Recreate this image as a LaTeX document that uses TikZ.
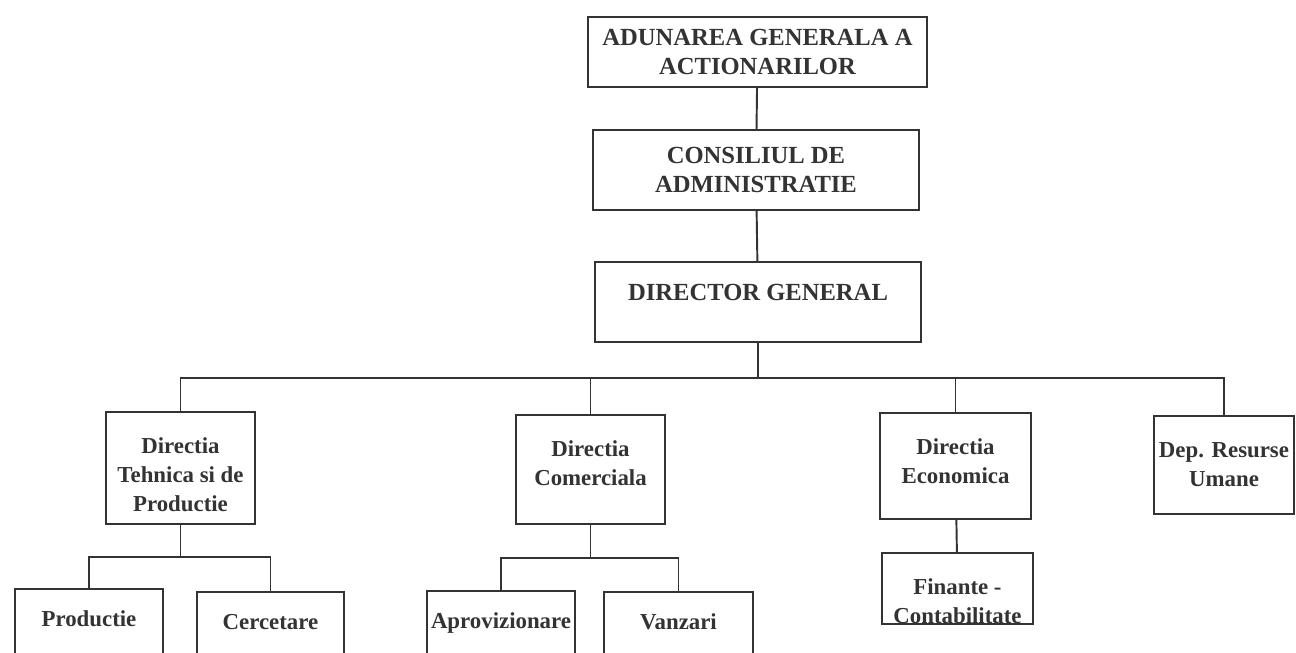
\documentclass[tikz,border=0pt]{standalone}
\usepackage{fontspec}
\setmainfont{Liberation Serif}
\usetikzlibrary{positioning}

\begin{document}
\begin{tikzpicture}[x=0.02cm, y=-0.02cm,
    unit/.style={draw=black!80, line width=1.2pt, fill=white, align=center,
        inner sep=2pt, text=black!80,
        font=\fontsize{13}{16.5}\selectfont\bfseries},
    head/.style={unit, font=\fontsize{14}{16.5}\selectfont\bfseries},
    dept/.style={unit, anchor=north, minimum height=1.4cm, text depth=0.2cm},
    conn/.style={draw=black!80, line width=1.1pt}]

    % Fixed frame of the page
    \clip (0,0) rectangle (1296,653);

    % Top of the hierarchy
    \node[head, minimum width=6.78cm, minimum height=1.4cm] (aga) at (757.5,52)
        {ADUNAREA GENERALA A\\ACTIONARILOR};
    \node[head, minimum width=6.52cm, minimum height=1.6cm] (ca) at (756,170)
        {CONSILIUL DE\\ADMINISTRATIE};
    \node[head, minimum width=6.52cm, minimum height=1.6cm, text depth=0.4cm] (dg) at (758,302)
        {DIRECTOR GENERAL};

    % Directions
    \node[unit, minimum width=2.98cm, minimum height=2.24cm, text height=50pt] (dt) at (180.5,468)
        {Directia\\Tehnica si de\\Productie};
    \node[unit, minimum width=2.98cm, minimum height=2.18cm, text depth=0.25cm] (dc) at (590.5,469.5)
        {Directia\\Comerciala};
    \node[unit, minimum width=3.02cm, minimum height=2.12cm, text depth=0.2cm] (de) at (955.5,466)
        {Directia\\Economica};
    \node[unit, minimum width=2.8cm, minimum height=1.96cm] (drh) at (1224,465)
        {Dep. Resurse\\Umane};

    % Departments (cut by the page edge)
    \node[dept, minimum width=2.96cm] (prod) at (89,588) {Productie};
    \node[dept, minimum width=2.94cm] (cerc) at (270.5,591) {Cercetare};
    \node[dept, minimum width=2.96cm] (aprov) at (501,590) {Aprovizionare};
    \node[dept, minimum width=2.98cm] (vanz) at (678.5,591) {Vanzari};
    \node[unit, minimum width=3.02cm, minimum height=1.42cm, inner ysep=0pt,
        text height=40pt, text depth=0pt] (fin) at (957.5,588.5)
        {Finante -\\Contabilitate};

    % Bus lines
    \coordinate (bus) at (758,378);
    \coordinate (tbus) at (0,557);
    \coordinate (cbus) at (0,558);

    % Connectors
    \draw[conn] (aga) -- (ca);
    \draw[conn] (ca) -- (dg);
    \draw[conn] (dg) -- (bus);
    \draw[conn] (dt.north) |- (bus) -| (drh.north);
    \draw[conn] (dc.north) -- (dc.north |- bus);
    \draw[conn] (de.north) -- (de.north |- bus);
    \draw[conn] (dt.south) -- (dt.south |- tbus);
    \draw[conn] (prod.north) |- (dt.south |- tbus) -| (cerc.north);
    \draw[conn] (dc.south) -- (dc.south |- cbus);
    \draw[conn] (aprov.north) |- (dc.south |- cbus) -| (vanz.north);
    \draw[conn] (de) -- (fin);

\end{tikzpicture}
\end{document}
